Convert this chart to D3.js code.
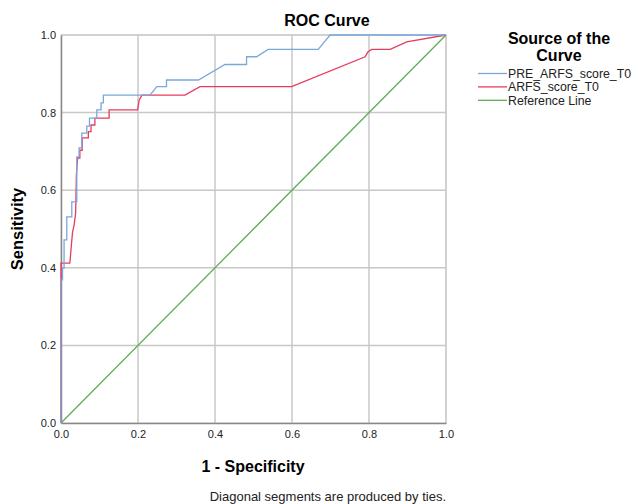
<!DOCTYPE html>
<html lang="en">
<head>
  <meta charset="UTF-8">
  <title>ROC Curve</title>
  <style>
    body { margin: 0; background: #fff; }
    svg { font-family: "Liberation Sans", Arial, sans-serif; }
  </style>
</head>
<body>
  <svg></svg>
  <script src="https://d3js.org/d3.v7.min.js"></script>
  <script>
    // [1 - specificity, sensitivity]
    var preArfs = [[0,0],[0,0.369],[0.004,0.369],[0.004,0.399],[0.008,0.399],[0.008,0.472],[0.015,0.472],
      [0.015,0.531],[0.028,0.531],[0.028,0.570],[0.041,0.570],[0.041,0.686],[0.047,0.686],[0.047,0.709],
      [0.054,0.709],[0.054,0.747],[0.067,0.747],[0.067,0.765],[0.074,0.765],[0.074,0.786],[0.093,0.786],
      [0.093,0.807],[0.104,0.807],[0.104,0.825],[0.110,0.825],[0.110,0.845],[0.231,0.845],[0.249,0.867],
      [0.274,0.867],[0.274,0.884],[0.357,0.884],[0.426,0.924],[0.482,0.924],[0.482,0.944],[0.508,0.944],
      [0.538,0.963],[0.668,0.963],[0.699,1],[1,1]];
    var arfs = [[0,0],[0,0.412],[0.023,0.412],[0.027,0.459],[0.030,0.492],[0.034,0.510],[0.038,0.541],
      [0.039,0.588],[0.040,0.639],[0.043,0.683],[0.049,0.683],[0.049,0.703],[0.055,0.703],[0.055,0.735],
      [0.071,0.735],[0.071,0.751],[0.078,0.751],[0.078,0.768],[0.088,0.768],[0.088,0.786],[0.125,0.786],
      [0.125,0.807],[0.199,0.807],[0.203,0.832],[0.210,0.845],[0.322,0.845],[0.361,0.867],[0.599,0.867],
      [0.790,0.944],[0.797,0.956],[0.807,0.963],[0.855,0.963],[0.898,0.982],[1,1]];
    var refLine = [[0,0],[1,1]];
    var ticks = [0, 0.2, 0.4, 0.6, 0.8, 1.0];
    var seriesNames = ["PRE_ARFS_score_T0", "ARFS_score_T0", "Reference Line"];
    var colors = ["#7ba7dc", "#e63c5e", "#5fae57"];

    var width = 641, height = 504;
    var pLeft = 61, pRight = 446, pTop = 35, pBottom = 423;

    var svg = d3.select("svg").attr("width", width).attr("height", height);

    var x = d3.scaleLinear().domain([0, 1]).range([pLeft, pRight]);
    var y = d3.scaleLinear().domain([0, 1]).range([pBottom, pTop]);

    // frame + grid
    svg.append("rect")
      .attr("x", pLeft).attr("y", pTop)
      .attr("width", pRight - pLeft).attr("height", pBottom - pTop)
      .attr("fill", "none").attr("stroke", "#d4d4d4");

    svg.append("g").selectAll("line").data(ticks.slice(1)).enter().append("line")
      .attr("x1", d => x(d)).attr("x2", d => x(d))
      .attr("y1", pTop).attr("y2", pBottom)
      .attr("stroke", "#c8c8c8").attr("stroke-width", 1.5);
    svg.append("g").selectAll("line").data(ticks.slice(1)).enter().append("line")
      .attr("x1", pLeft).attr("x2", pRight)
      .attr("y1", d => y(d)).attr("y2", d => y(d))
      .attr("stroke", "#c8c8c8").attr("stroke-width", 1.5);

    // axes
    var xAxis = svg.append("g").attr("transform", "translate(0," + pBottom + ")")
      .call(d3.axisBottom(x).tickValues(ticks).tickFormat(d3.format(".1f")).tickSize(0).tickPadding(7));
    var yAxis = svg.append("g").attr("transform", "translate(" + pLeft + ",0)")
      .call(d3.axisLeft(y).tickValues(ticks).tickFormat(d3.format(".1f")).tickSize(0).tickPadding(5));
    [xAxis, yAxis].forEach(function(a) {
      a.select(".domain").attr("stroke", "#888").attr("stroke-width", 1.5);
      a.selectAll("text").attr("font-size", 11).attr("fill", "#222")
        .attr("font-family", "Liberation Sans, Arial, sans-serif");
    });

    var line = d3.line().x(d => x(d[0])).y(d => y(d[1]));
    [[refLine, colors[2]], [arfs, colors[1]], [preArfs, colors[0]]].forEach(function(s) {
      svg.append("path").datum(s[0])
        .attr("d", line).attr("fill", "none")
        .attr("stroke", s[1]).attr("stroke-width", 1.3);
    });

    // titles
    svg.append("text").attr("x", 327).attr("y", 26)
      .attr("text-anchor", "middle").attr("font-size", 16).attr("font-weight", "bold")
      .text("ROC Curve");
    svg.append("text").attr("x", 253).attr("y", 472)
      .attr("text-anchor", "middle").attr("font-size", 16).attr("font-weight", "bold")
      .text("1 - Specificity");
    svg.append("text").attr("transform", "translate(23," + (pTop + pBottom) / 2 + ") rotate(-90)")
      .attr("text-anchor", "middle").attr("font-size", 16.5).attr("font-weight", "bold")
      .text("Sensitivity");
    svg.append("text").attr("x", pRight).attr("y", 501)
      .attr("text-anchor", "end").attr("font-size", 13).attr("fill", "#222")
      .text("Diagonal segments are produced by ties.");

    // legend
    var lg = svg.append("g");
    lg.append("text").attr("x", 559).attr("y", 44).attr("text-anchor", "middle")
      .attr("font-size", 16).attr("font-weight", "bold").text("Source of the");
    lg.append("text").attr("x", 559).attr("y", 61).attr("text-anchor", "middle")
      .attr("font-size", 16).attr("font-weight", "bold").text("Curve");
    seriesNames.forEach(function(n, i) {
      var yy = 73.5 + i * 13.4;
      lg.append("line").attr("x1", 478).attr("x2", 507).attr("y1", yy).attr("y2", yy)
        .attr("stroke", colors[i]).attr("stroke-width", 1.3);
      lg.append("text").attr("x", 508).attr("y", yy + 4.3).attr("font-size", 12.3)
        .attr("fill", "#222").text(n);
    });
  </script>
</body>
</html>
